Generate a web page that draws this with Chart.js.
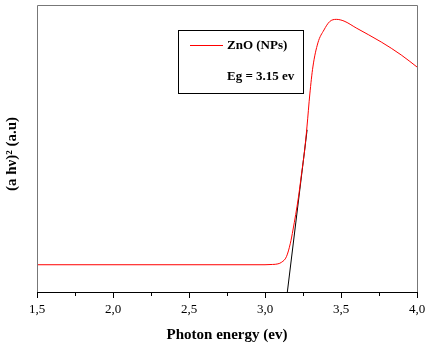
<!DOCTYPE html>
<html>
<head>
<meta charset="utf-8">
<script src="https://cdn.jsdelivr.net/npm/chart.js@4.4.1/dist/chart.umd.min.js"></script>
<style>
  html, body { margin: 0; padding: 0; background: #fff; }
  #wrap { width: 430px; height: 346px; position: relative; }
</style>
</head>
<body>
<div id="wrap"><canvas id="myChart"></canvas></div>
<script>
// 측정 곡선 (Photon energy vs (a hv)^2)
const energy = [1.5, 2.0, 2.5, 3.0, 3.05, 3.085, 3.11, 3.141, 3.167, 3.184, 3.22, 3.24, 3.261, 3.276, 3.295, 3.315, 3.348, 3.388, 3.425, 3.469, 3.52, 3.6, 3.765, 3.896, 4.0];
const absorb = [0.095, 0.095, 0.095, 0.095, 0.096, 0.098, 0.104, 0.123, 0.170, 0.216, 0.33, 0.41, 0.495, 0.575, 0.69, 0.784, 0.868, 0.913, 0.942, 0.950, 0.944, 0.92, 0.871, 0.826, 0.784];

// 접선 (Eg 추정)
const tangentX = [3.147, 3.277];
const tangentY = [0, 0.565];

const xTicks = [1.5, 2.0, 2.5, 3.0, 3.5, 4.0];
const legendLabel = 'ZnO (NPs)';
const gapLabel = 'Eg = 3.15 ev';
const yTitle = '(a hν)² (a.u)';

const serif = '"Liberation Serif", "Times New Roman", serif';

// 프레임, 눈금, y축 제목, 범례 직접 그리기
const framePlugin = {
  id: 'frame',
  afterDraw(chart) {
    const { ctx, chartArea: a } = chart;
    ctx.save();
    ctx.lineWidth = 1;
    ctx.strokeStyle = '#777';
    ctx.beginPath();
    ctx.moveTo(a.left + 0.5, a.bottom);
    ctx.lineTo(a.left + 0.5, a.top + 0.5);
    ctx.lineTo(a.right + 0.5, a.top + 0.5);
    ctx.lineTo(a.right + 0.5, a.bottom);
    ctx.stroke();
    ctx.strokeStyle = '#000';
    ctx.beginPath();
    ctx.moveTo(a.left, a.bottom + 0.5);
    ctx.lineTo(a.right + 1, a.bottom + 0.5);
    ctx.stroke();

    // 바닥 눈금 (주 6px, 보조 4px)
    const xs = chart.scales.x;
    for (let v = 1.5; v <= 4.0001; v += 0.25) {
      const px = Math.round(xs.getPixelForValue(v)) + 0.5;
      const major = xTicks.some(t => Math.abs(t - v) < 1e-6);
      ctx.beginPath();
      ctx.moveTo(px, a.bottom);
      ctx.lineTo(px, a.bottom + (major ? 6 : 4));
      ctx.stroke();
    }

    // y축 제목
    ctx.fillStyle = '#000';
    ctx.font = 'bold 15px ' + serif;
    ctx.textAlign = 'center';
    ctx.textBaseline = 'middle';
    ctx.save();
    ctx.translate(12, 154);
    ctx.rotate(-Math.PI / 2);
    ctx.fillText(yTitle, 0, 0);
    ctx.restore();

    // 범례
    ctx.strokeStyle = '#000';
    ctx.strokeRect(178.5, 30.5, 125, 63);
    ctx.strokeStyle = '#ff0000';
    ctx.beginPath();
    ctx.moveTo(190, 45.5);
    ctx.lineTo(223, 45.5);
    ctx.stroke();
    ctx.font = 'bold 13px ' + serif;
    ctx.textAlign = 'left';
    ctx.fillText(legendLabel, 227, 46);
    ctx.fillText(gapLabel, 227, 77);
    ctx.restore();
  }
};

const ctx = document.getElementById('myChart');
new Chart(ctx, {
  type: 'scatter',
  data: {
    datasets: [
      {
        data: energy.map((e, i) => ({ x: e, y: absorb[i] })),
        showLine: true,
        borderColor: '#ff0000',
        borderWidth: 1,
        pointRadius: 0,
        cubicInterpolationMode: 'monotone'
      },
      {
        data: tangentX.map((e, i) => ({ x: e, y: tangentY[i] })),
        showLine: true,
        borderColor: '#000',
        borderWidth: 1,
        pointRadius: 0
      }
    ]
  },
  options: {
    responsive: true,
    maintainAspectRatio: false,
    animation: false,
    layout: { padding: { top: 5, right: 13, left: 0, bottom: 0 } },
    plugins: { legend: { display: false }, tooltip: { enabled: false } },
    scales: {
      x: {
        type: 'linear',
        min: 1.5,
        max: 4.0,
        afterFit(scale) { scale.height = 54; },
        afterBuildTicks(scale) {
          scale.ticks = xTicks.map(v => ({ value: v }));
        },
        border: { display: false },
        grid: { drawOnChartArea: false, color: 'rgba(0,0,0,0)', tickLength: 8 },
        ticks: {
          color: '#000',
          font: { family: serif, size: 13 },
          padding: 2,
          maxRotation: 0,
          autoSkip: false,
          callback(v) { return v.toFixed(1).replace('.', ','); }
        },
        title: {
          display: true,
          text: 'Photon energy (ev)',
          color: '#000',
          font: { family: serif, size: 15, weight: 'bold' },
          padding: { top: 2, bottom: 2 }
        }
      },
      y: {
        min: 0,
        max: 1,
        afterFit(scale) { scale.width = 37; },
        border: { display: false },
        grid: { display: false },
        ticks: { display: false },
        title: { display: false }
      }
    }
  },
  plugins: [framePlugin]
});
</script>
</body>
</html>
